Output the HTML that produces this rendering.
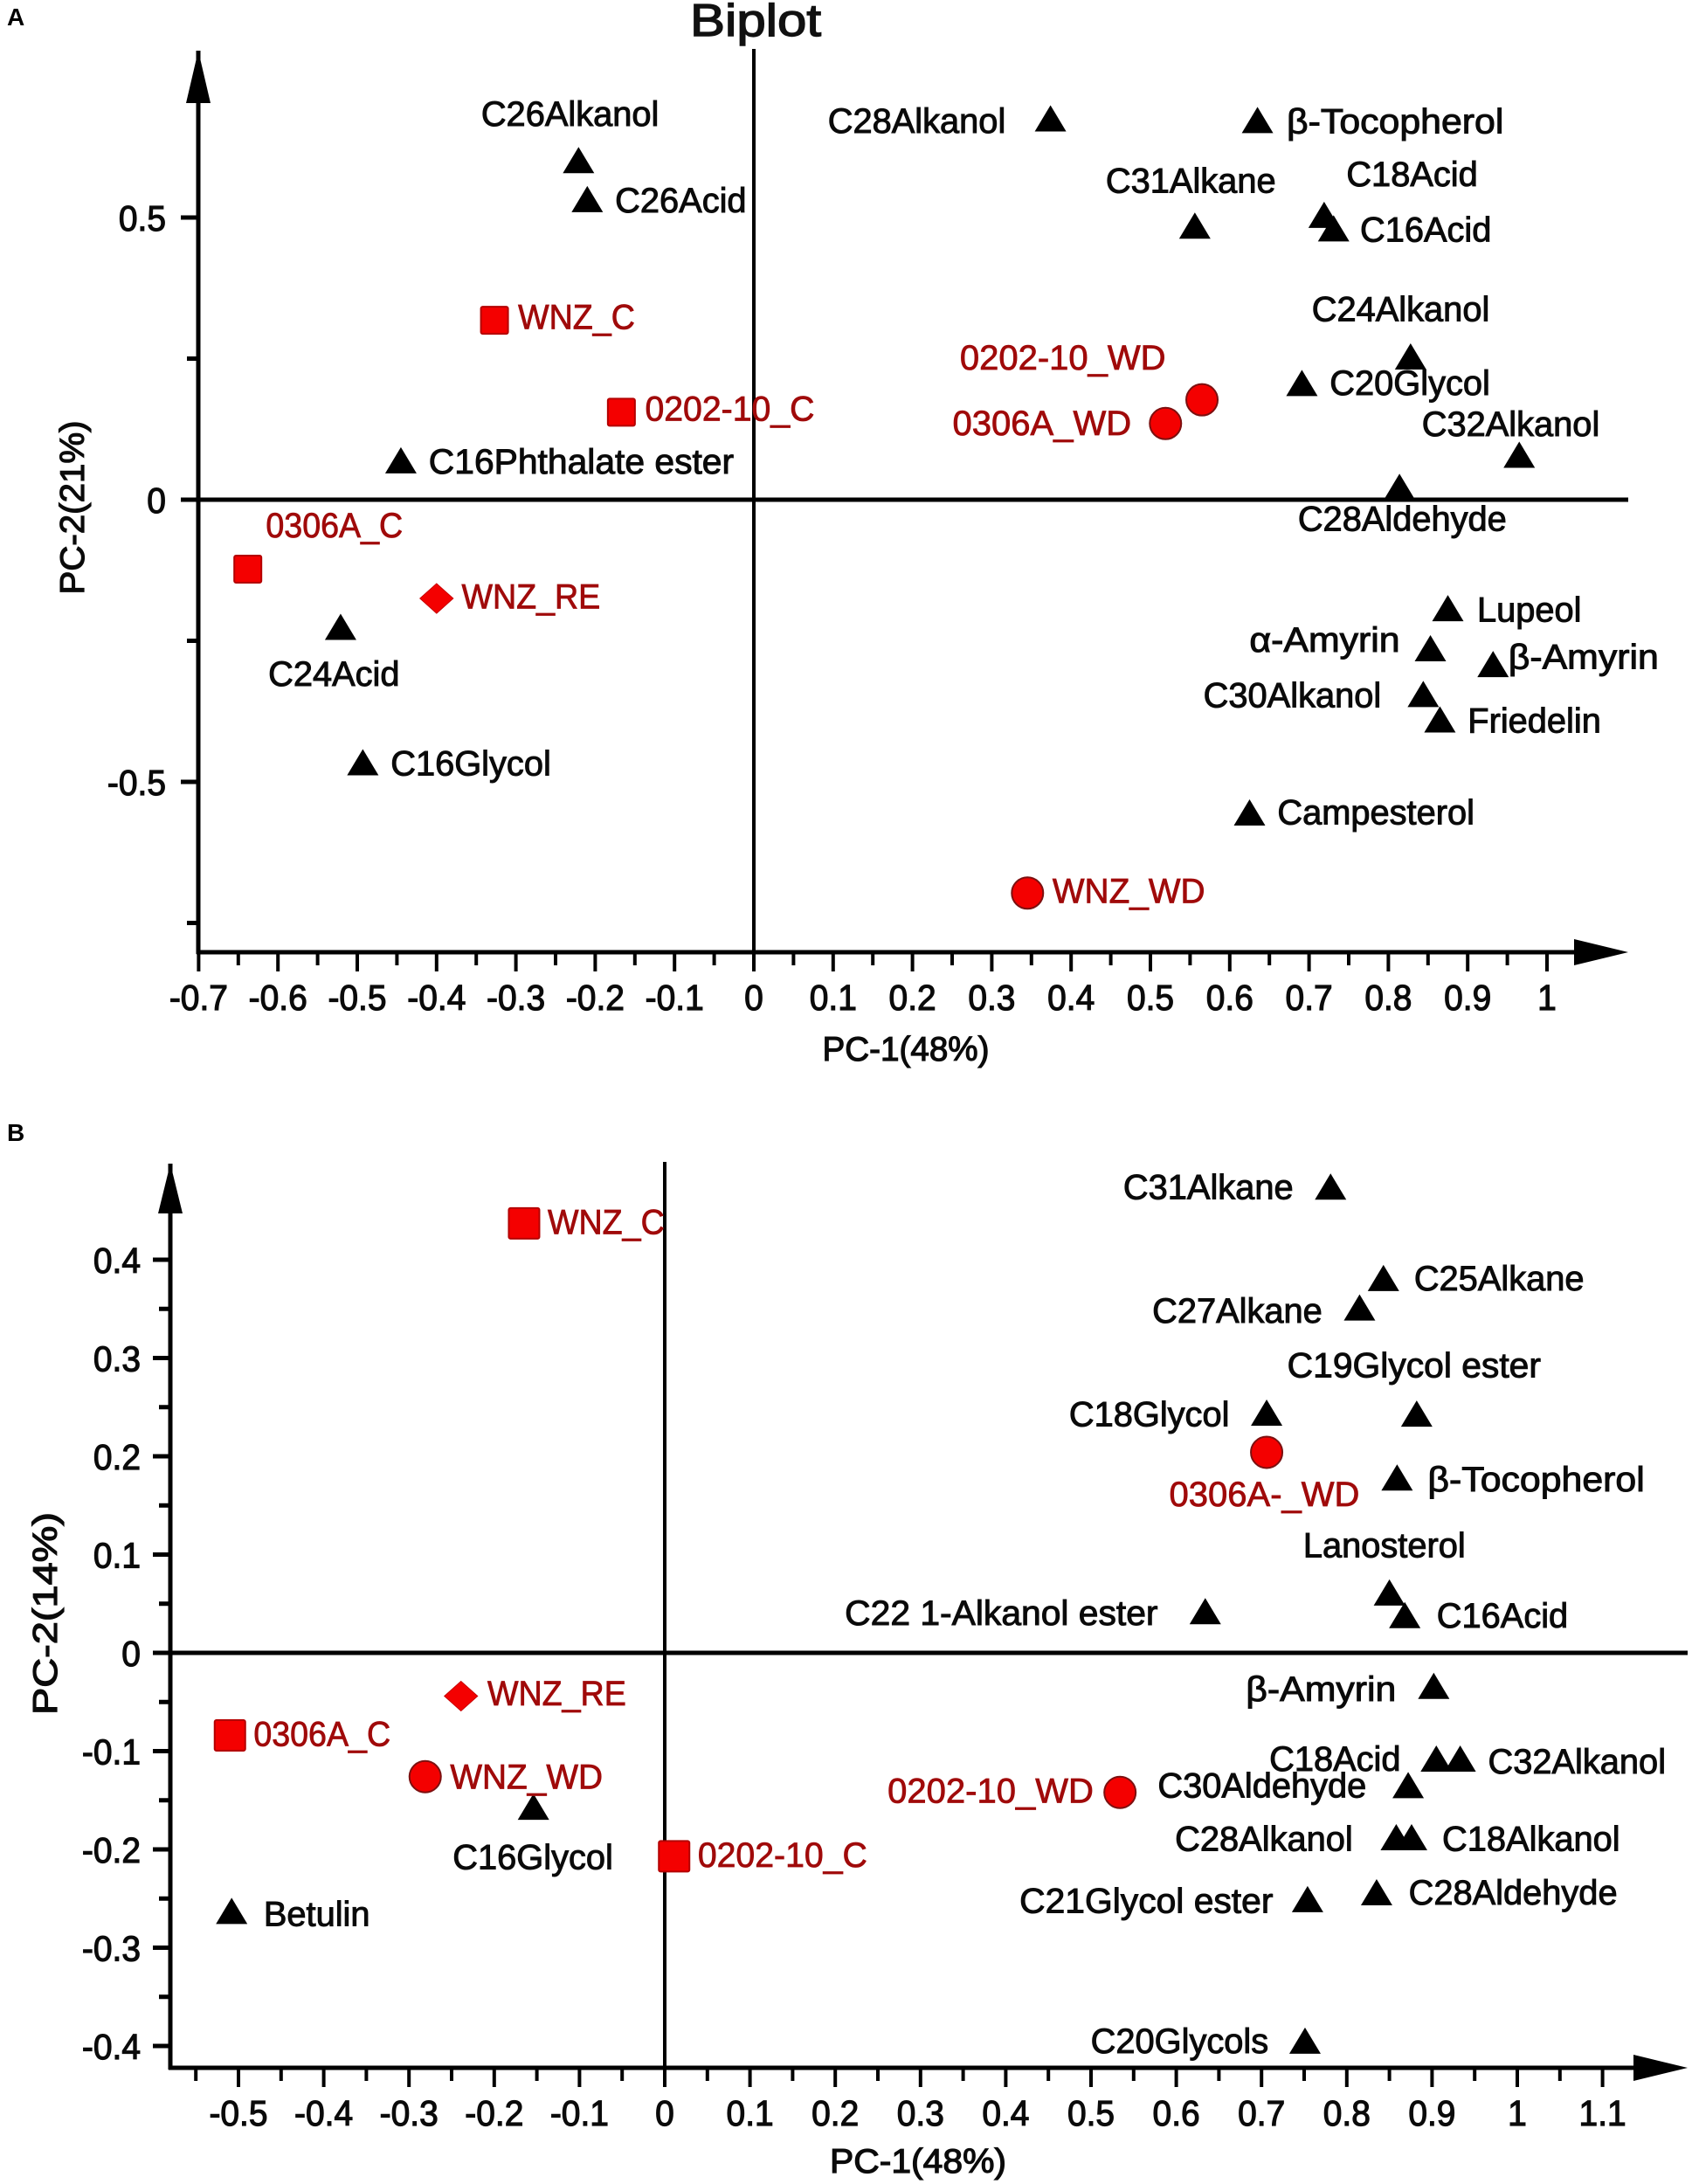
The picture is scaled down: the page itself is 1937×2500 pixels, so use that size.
<!DOCTYPE html>
<html>
<head>
<meta charset="utf-8">
<title>Biplot</title>
<style>
html,body{margin:0;padding:0;background:#fff;}
svg{display:block;}
text{font-family:"Liberation Sans","DejaVu Sans",sans-serif;}
.lbl{font-size:40px;fill:#0a0a0a;stroke:#0a0a0a;stroke-width:1px;}
.red{font-size:40px;fill:#a00a0a;stroke:#a00a0a;stroke-width:.8px;}
.tick{font-size:41px;fill:#0a0a0a;stroke:#0a0a0a;stroke-width:1.2px;}
.title{font-size:39px;fill:#0a0a0a;stroke:#0a0a0a;stroke-width:1.2px;}
</style>
</head>
<body>
<svg id="chart" xmlns="http://www.w3.org/2000/svg" width="1937" height="2500" viewBox="0 0 1937 2500">
<rect width="1937" height="2500" fill="#fff"/>
<text x="8" y="29" style="font-size:28px;font-weight:bold">A</text>
<text x="8" y="1306" style="font-size:28px;font-weight:bold">B</text>
<text x="865" y="41" text-anchor="middle" textLength="150" lengthAdjust="spacingAndGlyphs" style="font-size:52px;fill:#111;stroke:#111;stroke-width:1.4px">Biplot</text>
</svg>
<script>
// Panel A data
var aTriNames = ["C26Alkanol","C26Acid","C16Phthalate ester","C24Acid","C16Glycol","C28Alkanol","β-Tocopherol","C31Alkane","C18Acid","C16Acid","C24Alkanol","C20Glycol","C32Alkanol","C28Aldehyde","Lupeol","α-Amyrin","β-Amyrin","C30Alkanol","Friedelin","Campesterol"];
var aTriX = [-0.221,-0.210,-0.445,-0.521,-0.493,0.374,0.635,0.556,0.719,0.731,0.828,0.691,0.965,0.814,0.875,0.853,0.932,0.844,0.865,0.625];
var aTriY = [0.601,0.532,0.069,-0.226,-0.466,0.675,0.672,0.485,0.504,0.480,0.253,0.206,0.079,0.022,-0.193,-0.264,-0.292,-0.345,-0.390,-0.555];
var aSquareNames = ["WNZ_C","0202-10_C","0306A_C"];
var aSquareX = [-0.327,-0.167,-0.638];
var aSquareY = [0.318,0.155,-0.123];
var aDiamondNames = ["WNZ_RE"];
var aDiamondX = [-0.400];
var aDiamondY = [-0.175];
var aCircleNames = ["0202-10_WD","0306A_WD","WNZ_WD"];
var aCircleX = [0.565,0.519,0.345];
var aCircleY = [0.177,0.135,-0.697];
var aXTicks = ["-0.7","-0.6","-0.5","-0.4","-0.3","-0.2","-0.1","0","0.1","0.2","0.3","0.4","0.5","0.6","0.7","0.8","0.9","1"];
var aXMinor = [-0.65,-0.55,-0.45,-0.35,-0.25,-0.15,-0.05,0.05,0.15,0.25,0.35,0.45,0.55,0.65,0.75,0.85,0.95];
var aYTicks = ["-0.5","0","0.5"];
var aYMinor = [-0.75,-0.25,0.25];

// Panel B data
var bTriNames = ["C31Alkane","C25Alkane","C27Alkane","C19Glycol ester","C18Glycol","β-Tocopherol","Lanosterol","C16Acid","C22 1-Alkanol ester","β-Amyrin","C18Acid","C32Alkanol","C30Aldehyde","C28Alkanol","C18Alkanol","C28Aldehyde","C21Glycol ester","C20Glycols","C16Glycol","Betulin"];
var bTriX = [0.781,0.843,0.815,0.882,0.706,0.859,0.850,0.868,0.634,0.902,0.905,0.933,0.872,0.858,0.876,0.835,0.754,0.751,-0.154,-0.508];
var bTriY = [0.474,0.381,0.351,0.243,0.244,0.178,0.061,0.038,0.042,-0.034,-0.108,-0.108,-0.135,-0.188,-0.188,-0.244,-0.251,-0.395,-0.157,-0.263];
var bSquareNames = ["WNZ_C","0306A_C","0202-10_C"];
var bSquareX = [-0.165,-0.510,0.011];
var bSquareY = [0.437,-0.084,-0.207];
var bDiamondNames = ["WNZ_RE"];
var bDiamondX = [-0.239];
var bDiamondY = [-0.044];
var bCircleNames = ["0306A-_WD","WNZ_WD","0202-10_WD"];
var bCircleX = [0.706,-0.281,0.534];
var bCircleY = [0.204,-0.126,-0.142];
var bXTicks = ["-0.5","-0.4","-0.3","-0.2","-0.1","0","0.1","0.2","0.3","0.4","0.5","0.6","0.7","0.8","0.9","1","1.1"];
var bXMinor = [-0.55,-0.45,-0.35,-0.25,-0.15,-0.05,0.05,0.15,0.25,0.35,0.45,0.55,0.65,0.75,0.85,0.95,1.05];
var bYTicks = ["-0.4","-0.3","-0.2","-0.1","0","0.1","0.2","0.3","0.4"];
var bYMinor = [-0.35,-0.25,-0.15,-0.05,0.05,0.15,0.25,0.35];

// Label layout relative to each mark: [left-edge dx, centre dy] in 1/1.593 px units
var aLabelLayout = {"C26Alkanol":[-70,-33],"C26Acid":[20,1],"C16Phthalate ester":[20,1],"C24Acid":[-52,34],"C16Glycol":[20,1],"C28Alkanol":[-160,2],"β-Tocopherol":[21,1],"C31Alkane":[-64,-32],"C18Acid":[16,-29],"C16Acid":[19,1],"C24Alkanol":[-71,-34],"C20Glycol":[20,0],"C32Alkanol":[-70,-22],"C28Aldehyde":[-73,23],"Lupeol":[21,1],"α-Amyrin":[-130,-6],"β-Amyrin":[11,-5],"C30Alkanol":[-158,1],"Friedelin":[20,1],"Campesterol":[20,0],"WNZ_C":[17,-2],"0202-10_C":[17,-2],"0306A_C":[13,-31],"WNZ_RE":[18,-1],"0202-10_WD":[-174,-30],"0306A_WD":[-153,0],"WNZ_WD":[18,-1]};
var bLabelLayout = {"C31Alkane":[-149,0],"C25Alkane":[22,0],"C27Alkane":[-149,2],"C19Glycol ester":[-93,-35],"C18Glycol":[-142,1],"β-Tocopherol":[22,1],"Lanosterol":[-62,-34],"C16Acid":[23,0],"C22 1-Alkanol ester":[-259,1],"β-Amyrin":[-135,2],"C18Acid":[-120,0],"C32Alkanol":[20,2],"C30Aldehyde":[-180,0],"C28Alkanol":[-159,1],"C18Alkanol":[22,1],"C28Aldehyde":[23,0],"C21Glycol ester":[-207,1],"C20Glycols":[-154,0],"C16Glycol":[-58,36],"Betulin":[23,2],"WNZ_C":[17,-1],"0306A_C":[17,-1],"0202-10_C":[17,-1],"WNZ_RE":[19,-2],"0306A-_WD":[-70,30],"WNZ_WD":[18,0],"0202-10_WD":[-167,-1]};

var svg = document.getElementById('chart');
var NS = 'http://www.w3.org/2000/svg';
var LAYOUT_SCALE = 1.593;

function make(tag, attrs, parent) {
  var el = document.createElementNS(NS, tag);
  for (var k in attrs) el.setAttribute(k, attrs[k]);
  (parent || svg).appendChild(el);
  return el;
}
function slug(s) {
  return s.toLowerCase().replace(/α/g,'alpha').replace(/β/g,'beta').replace(/[^a-z0-9]+/g,'-').replace(/^-|-$/g,'');
}
function axisLine(x1, y1, x2, y2, w, name) {
  var el = make('line', {x1:x1, y1:y1, x2:x2, y2:y2, stroke:'#000', 'stroke-width':w});
  
  
  return el;
}
function arrowHead(points, name) {
  var el = make('polygon', {points:points, fill:'#000'});
  
  
}
function textAt(x, y, str, cls, anchor, name) {
  var el = make('text', {x:x, y:y, 'class':cls, 'text-anchor':anchor || 'start'});
  el.textContent = str;
  
  
  return el;
}
function fitWidth(el, targetScale) {
  var len = el.getComputedTextLength();
  el.setAttribute('textLength', (len * targetScale).toFixed(1));
  el.setAttribute('lengthAdjust', 'spacingAndGlyphs');
}
function labelScale(name) {
  if (/^[αβ]/.test(name)) return 1.07;
  if (/^WNZ_WD/.test(name)) return 0.97;
  if (/_WD$/.test(name)) return 1.0;
  if (/^0202-10_C/.test(name)) return 0.98;
  if (/_(C|RE)$/.test(name)) return 0.94;
  if (/ester$/.test(name)) return 1.02;
  return 0.995;
}

function drawPanel(p) {
  var x = p.x, y = p.y, id = p.id;
  // frame and zero lines
  axisLine(p.leftX, p.top, p.leftX, p.bottomY + 2, 5, id + '-y-axis-line');
  axisLine(x(0), p.vTop, x(0), p.bottomY, 4, id + '-zero-vertical-line');
  axisLine(p.leftX - 2, p.bottomY, p.arrowTip - 10, p.bottomY, 5, id + '-x-axis-line');
  axisLine(p.leftX - 20, y(0), p.hEnd, y(0), 5, id + '-zero-horizontal-line');
  arrowHead((p.leftX-14)+','+p.arrowBase+' '+(p.leftX+14)+','+p.arrowBase+' '+p.leftX+','+p.top, id + '-y-axis-arrow');
  arrowHead(p.arrowStart+','+(p.bottomY-15)+' '+p.arrowStart+','+(p.bottomY+15)+' '+p.arrowTip+','+p.bottomY, id + '-x-axis-arrow');

  // ticks
  p.xTicks.forEach(function (t) {
    var v = parseFloat(t);
    axisLine(x(v), p.bottomY, x(v), p.bottomY + 22, 4, id + '-x-tick-' + slug(t));
    var tl = textAt(x(v), p.xLabelY, t, 'tick', 'middle', id + '-x-tick-label-' + slug(t));
    fitWidth(tl, 0.95);
  });
  p.xMinor.forEach(function (v) {
    axisLine(x(v), p.bottomY, x(v), p.bottomY + 15, 4, id + '-x-minor-tick');
  });
  p.yTicks.forEach(function (t) {
    var v = parseFloat(t);
    axisLine(p.leftX - 20, y(v), p.leftX, y(v), 5, id + '-y-tick-' + slug(t));
    var tl = textAt(p.yLabelX, y(v) + 15, t, 'tick', 'end', id + '-y-tick-label-' + slug(t));
    fitWidth(tl, 0.95);
  });
  p.yMinor.forEach(function (v) {
    axisLine(p.leftX - 13, y(v), p.leftX, y(v), 5, id + '-y-minor-tick');
  });

  function label(name, mx, my, cls) {
    var off = p.layout[name];
    var el = textAt(mx + off[0] * LAYOUT_SCALE, my + off[1] * LAYOUT_SCALE + p.baseOff, name, cls, 'start', id + '-label-' + slug(name));
    fitWidth(el, labelScale(name));
  }

  // triangles (variables)
  p.triNames.forEach(function (n, i) {
    var cx = x(p.triX[i]), cy = y(p.triY[i]);
    label(n, cx, cy, 'lbl');
    var el = make('polygon', {points:(cx-18)+','+(cy+14.5)+' '+(cx+18)+','+(cy+14.5)+' '+cx+','+(cy-15.5), fill:'#000'});
    
    
  });
  // squares (control samples)
  p.squareNames.forEach(function (n, i) {
    var cx = x(p.squareX[i]), cy = y(p.squareY[i]);
    label(n, cx, cy, 'red');
    var el = make('rect', {x:cx-p.sq/2, y:cy-p.sq/2, width:p.sq, height:p.sq, rx:2, fill:'#f40000', stroke:'#b40000', 'stroke-width':2});
    
    
  });
  // diamonds (rewatered samples)
  p.diamondNames.forEach(function (n, i) {
    var cx = x(p.diamondX[i]), cy = y(p.diamondY[i]);
    label(n, cx, cy, 'red');
    var el = make('polygon', {points:(cx-19)+','+cy+' '+cx+','+(cy-17)+' '+(cx+19)+','+cy+' '+cx+','+(cy+17), fill:'#f40000', stroke:'#c80000', 'stroke-width':1});
    
    
  });
  // circles (water-deficit samples)
  p.circleNames.forEach(function (n, i) {
    var cx = x(p.circleX[i]), cy = y(p.circleY[i]);
    label(n, cx, cy, 'red');
    var el = make('circle', {cx:cx, cy:cy, r:18, fill:'#f40000', stroke:'#7c1010', 'stroke-width':2});
    
    
  });
}

var xA = function (v) { return 863 + 908 * v; };
var yA = function (v) { return 572 - 646 * v; };
var xB = function (v) { return 761 + 976 * v; };
var yB = function (v) { return 1892 - 1125 * v; };

drawPanel({id:'panel-a', x:xA, y:yA, leftX:227, top:58, vTop:56, bottomY:1090, arrowBase:118, arrowStart:1802, arrowTip:1864, hEnd:1864, xLabelY:1156, yLabelX:190, sq:31, baseOff:13,
  xTicks:aXTicks, xMinor:aXMinor, yTicks:aYTicks, yMinor:aYMinor, layout:aLabelLayout,
  triNames:aTriNames, triX:aTriX, triY:aTriY, squareNames:aSquareNames, squareX:aSquareX, squareY:aSquareY,
  diamondNames:aDiamondNames, diamondX:aDiamondX, diamondY:aDiamondY, circleNames:aCircleNames, circleX:aCircleX, circleY:aCircleY});

drawPanel({id:'panel-b', x:xB, y:yB, leftX:195, top:1332, vTop:1330, bottomY:2367, arrowBase:1389, arrowStart:1870, arrowTip:1932, hEnd:1932, xLabelY:2433, yLabelX:161, sq:35, baseOff:13.5,
  xTicks:bXTicks, xMinor:bXMinor, yTicks:bYTicks, yMinor:bYMinor, layout:bLabelLayout,
  triNames:bTriNames, triX:bTriX, triY:bTriY, squareNames:bSquareNames, squareX:bSquareX, squareY:bSquareY,
  diamondNames:bDiamondNames, diamondX:bDiamondX, diamondY:bDiamondY, circleNames:bCircleNames, circleX:bCircleX, circleY:bCircleY});

// Axis titles
var t1 = textAt(1037, 1214, 'PC-1(48%)', 'title', 'middle', 'panel-a-x-axis-title');
t1.setAttribute('textLength', '191');
t1.setAttribute('lengthAdjust', 'spacingAndGlyphs');
var t2 = textAt(0, 0, 'PC-2(21%)', 'title', 'middle', 'panel-a-y-axis-title');
t2.setAttribute('transform', 'translate(96 581) rotate(-90)');
t2.setAttribute('textLength', '199');
t2.setAttribute('lengthAdjust', 'spacingAndGlyphs');
var t3 = textAt(1051, 2487, 'PC-1(48%)', 'title', 'middle', 'panel-b-x-axis-title');
t3.setAttribute('textLength', '202');
t3.setAttribute('lengthAdjust', 'spacingAndGlyphs');
var t4 = textAt(0, 0, 'PC-2(14%)', 'title', 'middle', 'panel-b-y-axis-title');
t4.setAttribute('transform', 'translate(65 1847) rotate(-90)');
t4.setAttribute('textLength', '232');
t4.setAttribute('lengthAdjust', 'spacingAndGlyphs');
</script>
</body>
</html>
